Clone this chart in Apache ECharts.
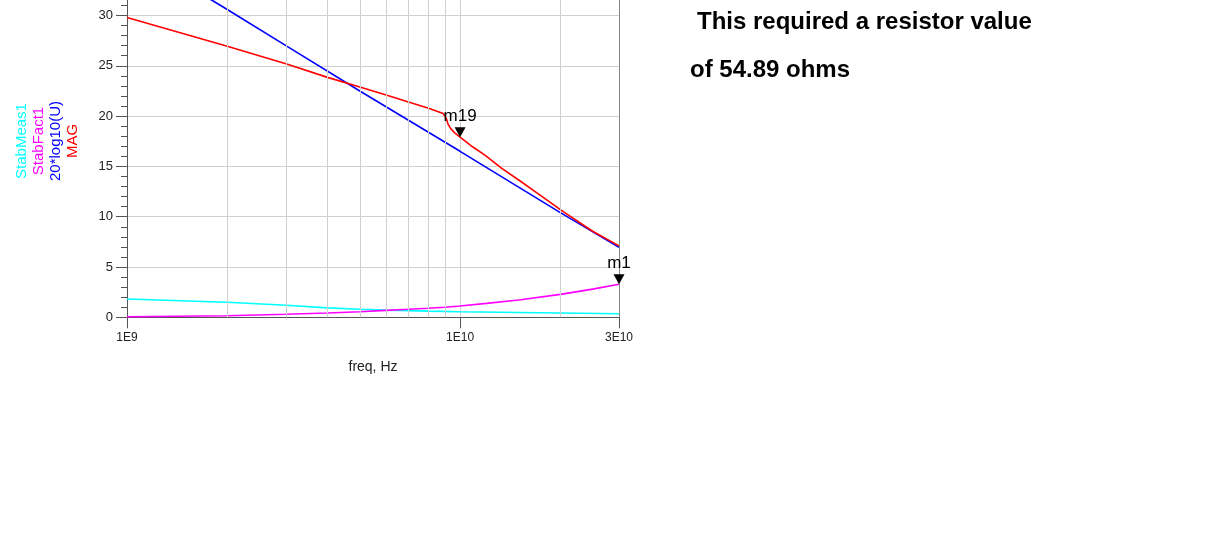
<!DOCTYPE html>
<html>
<head>
<meta charset="utf-8">
<script src="https://cdn.jsdelivr.net/npm/echarts@6/dist/echarts.min.js"></script>
<style>
html,body{margin:0;padding:0;background:#fff;overflow:hidden;}
#c{position:absolute;left:0;top:-35px;width:1229px;height:591px;}
</style>
</head>
<body>
<div id="c"></div>
<script>
// ---- data ----
const freqU = [1e9, 2e9, 3e9, 5e9, 1e10, 2e10, 3e10];
const uDb   = [36.6, 30.6, 27.0, 22.5, 16.5, 10.4, 6.95];

const freqMag = [1e9, 2e9, 3e9, 4e9, 5e9, 6e9, 7e9, 8e9, 8.9e9, 9.1e9, 9.2e9, 9.4e9, 9.66e9, 1e10, 1.09e10, 1.19e10, 1.334e10, 1.5e10, 1.68e10, 2.04e10, 2.5e10, 3e10];
const mag     = [29.8, 26.95, 25.2, 23.85, 22.9, 22.1, 21.4, 20.8, 20.25, 19.75, 19.2, 18.7, 18.3, 17.9, 16.95, 16.1, 14.8, 13.65, 12.5, 10.5, 8.55, 7.1];

const freqK = [1e9, 2e9, 3e9, 4e9, 5e9, 6e9, 7e9, 8e9, 9e9, 1e10, 1.2e10, 1.5e10, 2e10, 2.5e10, 3e10];
const stabFact = [0.05, 0.16, 0.3, 0.43, 0.55, 0.69, 0.8, 0.9, 1.0, 1.13, 1.38, 1.72, 2.28, 2.8, 3.28];

const freqB = [1e9, 2e9, 3e9, 4e9, 5e9, 6e9, 7e9, 8e9, 1e10, 1.5e10, 2e10, 3e10];
const stabMeas = [1.82, 1.5, 1.2, 0.94, 0.8, 0.71, 0.66, 0.61, 0.55, 0.47, 0.42, 0.36];

const gridFreqs = [2e9, 3e9, 4e9, 5e9, 6e9, 7e9, 8e9, 9e9, 2e10];

const markerNames = ['m19', 'm1'];
const markerFreqs = [1e10, 3e10];
const markerValues = [17.9, 3.28];

const legendNames = ['StabMeas1', 'StabFact1', '20*log10(U)', 'MAG'];
const legendColors = ['#00ffff', '#ff00ff', '#0000ff', '#ff0000'];

const noteLines = ['This required a resistor value', 'of 54.89 ohms'];

// ---- chart ----
const FONT = "'Liberation Sans', Arial, sans-serif";
const SHIFT = 35; // chart div is shifted up so the plot runs off the top edge
const zip = (xs, ys) => xs.map((x, i) => [x, ys[i]]);

function fmtFreq(v) {
  const e = Math.floor(Math.log10(v) + 1e-9);
  const m = Math.round(v / Math.pow(10, e));
  return m + 'E' + e;
}

function markerPoint(i) {
  return { coord: [markerFreqs[i], markerValues[i]], name: markerNames[i] };
}

const markPointStyle = {
  symbol: 'triangle',
  symbolRotate: 180,
  symbolSize: [11, 10],
  symbolOffset: [0, -5],
  itemStyle: { color: '#000' },
  label: {
    show: true, position: 'top', distance: 2, formatter: '{b}',
    color: '#000', fontSize: 17, fontFamily: FONT
  },
  silent: true
};

const chart = echarts.init(document.getElementById('c'), null, { renderer: 'canvas' });

const graphics = [];
const legendX = [22, 39, 56, 73];
legendNames.forEach((t, i) => {
  graphics.push({
    type: 'text',
    x: legendX[i], y: 141 + SHIFT,
    rotation: Math.PI / 2,
    style: {
      text: t, fill: legendColors[i],
      font: '15px ' + FONT,
      textAlign: 'center', textVerticalAlign: 'middle',
      align: 'center', verticalAlign: 'middle'
    }
  });
});
graphics.push({
  type: 'text', x: 697, y: 22 + SHIFT,
  style: { text: noteLines[0], fill: '#000', font: 'bold 24px ' + FONT,
    textAlign: 'left', textVerticalAlign: 'middle', align: 'left', verticalAlign: 'middle' }
});
graphics.push({
  type: 'text', x: 690, y: 70 + SHIFT,
  style: { text: noteLines[1], fill: '#000', font: 'bold 24px ' + FONT,
    textAlign: 'left', textVerticalAlign: 'middle', align: 'left', verticalAlign: 'middle' }
});

const option = {
  animation: false,
  backgroundColor: '#fff',
  grid: { left: 127, right: 610, top: 0.2, bottom: 238.7, containLabel: false, outerBoundsMode: 'none' },
  xAxis: {
    type: 'log', logBase: 10, min: 1e9, max: 3e10,
    name: 'freq, Hz', nameLocation: 'middle', nameGap: 43,
    nameTextStyle: { color: '#222', fontSize: 14, fontFamily: FONT },
    axisLine: { show: true, onZero: false, lineStyle: { color: '#555', width: 1 } },
    axisTick: { show: true, inside: false, length: 11, lineStyle: { color: '#555' } },
    axisLabel: { color: '#222', fontSize: 12, fontFamily: FONT, margin: 14, formatter: fmtFreq },
    splitLine: { show: true, lineStyle: { color: '#d0d0d0', width: 1 } },
    minorTick: { show: false }
  },
  yAxis: [{
    type: 'value', min: 0, max: 35, interval: 5,
    axisLine: { show: true, lineStyle: { color: '#555', width: 1 } },
    axisTick: { show: true, inside: false, length: 11, lineStyle: { color: '#555' } },
    minorTick: { show: true, splitNumber: 5, length: 6, lineStyle: { color: '#555' } },
    axisLabel: { color: '#222', fontSize: 13, fontFamily: FONT, margin: 14 },
    splitLine: { show: true, lineStyle: { color: '#d0d0d0', width: 1 } }
  }, {
    type: 'value', min: 0, max: 35, position: 'right',
    axisLine: { show: true, lineStyle: { color: '#888', width: 1 } },
    axisTick: { show: false }, axisLabel: { show: false }, splitLine: { show: false }
  }],
  graphic: graphics,
  series: [
    {
      name: 'grid', type: 'line', z: 1, silent: true,
      data: zip(freqU, uDb), showSymbol: false,
      lineStyle: { opacity: 0 },
      markLine: {
        silent: true, symbol: 'none', label: { show: false },
        lineStyle: { color: '#d0d0d0', type: 'solid', width: 1 },
        data: gridFreqs.map(f => ({ xAxis: f }))
      }
    },
    {
      name: 'StabMeas1', type: 'line', z: 3, data: zip(freqB, stabMeas),
      showSymbol: false, lineStyle: { color: '#00ffff', width: 1.6 }, itemStyle: { color: '#00ffff' }
    },
    {
      name: 'StabFact1', type: 'line', z: 4, data: zip(freqK, stabFact),
      showSymbol: false, lineStyle: { color: '#ff00ff', width: 1.6 }, itemStyle: { color: '#ff00ff' },
      markPoint: Object.assign({ data: [markerPoint(1)] }, markPointStyle)
    },
    {
      name: '20*log10(U)', type: 'line', z: 3, data: zip(freqU, uDb),
      showSymbol: false, lineStyle: { color: '#0000ff', width: 1.6 }, itemStyle: { color: '#0000ff' }
    },
    {
      name: 'MAG', type: 'line', z: 4, data: zip(freqMag, mag),
      showSymbol: false, lineStyle: { color: '#ff0000', width: 1.6 }, itemStyle: { color: '#ff0000' },
      markPoint: Object.assign({ data: [markerPoint(0)] }, markPointStyle)
    }
  ]
};
chart.setOption(option);
</script>
</body>
</html>
